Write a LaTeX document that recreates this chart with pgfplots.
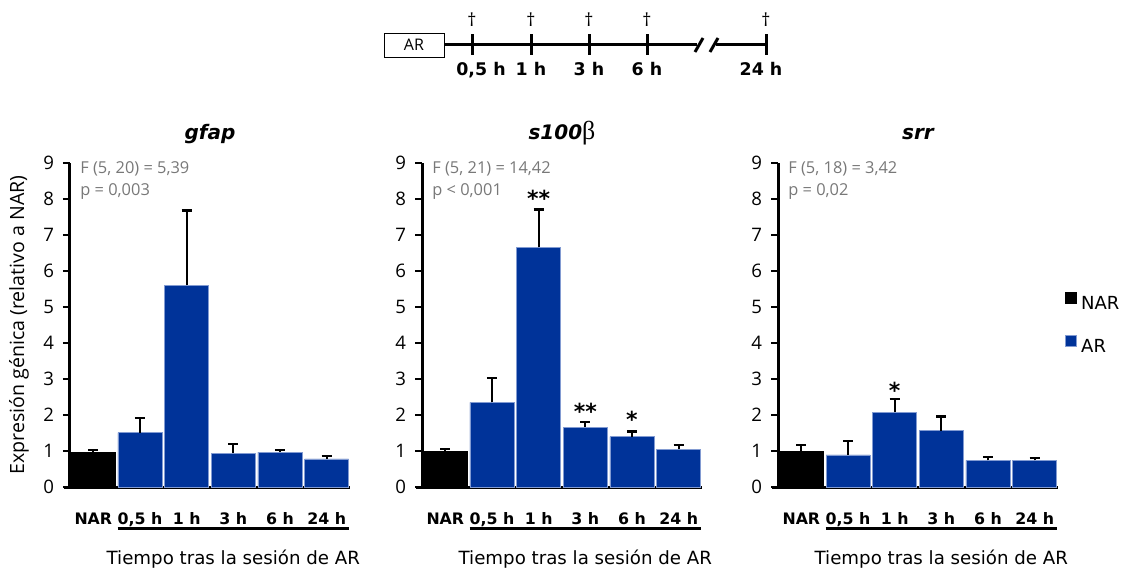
\documentclass[border=0pt]{standalone}
\usepackage{fontspec}
\setmainfont{Open Sans}
\newfontfamily\dvs{DejaVu Sans}
\newfontfamily\lserif{Liberation Serif}
\usepackage{pgfplots}
\pgfplotsset{compat=1.18}
\definecolor{arblue}{RGB}{0,51,153}
\definecolor{edgeblue}{RGB}{130,155,210}
\definecolor{ftext}{RGB}{120,120,120}
\pgfplotsset{
 panel/.style={
  width=140pt, height=162pt, scale only axis, anchor=south west,
  xmin=-0.5, xmax=5.5, ymin=0, ymax=9,
  axis lines=left, axis line style={-, line width=1.5pt, black},
  x axis line style={shorten <=-3pt},
  xtick={0,...,5}, xticklabels={NAR,{0,5 h},1 h,3 h,6 h,24 h},
  xtick style={draw=none},
  ytick={0,...,9}, ytick style={line width=1.2pt, black},
  tick align=outside, major tick length=3.5pt,
  yticklabel style={font=\fontsize{9.3}{10}\selectfont, xshift=-1pt},
  xticklabel style={font=\dvs\bfseries\fontsize{7.9}{9}\selectfont, anchor=base, yshift=-15.2pt},
  /pgf/number format/assume math mode=true,
  clip=false,
 },
 narbar/.style={ybar, bar width=22pt, bar shift=0pt, fill=black, draw=black, line width=0.3pt,
  error bars/.cd, y dir=plus, y explicit, error mark=-,
  error bar style={line width=1.1pt, black},
  error mark options={rotate=90, line width=1.1pt, black, mark size=2.5pt}},
 arbar/.style={ybar, bar width=22pt, bar shift=0pt, fill=arblue, draw=edgeblue, line width=0.4pt,
  error bars/.cd, y dir=plus, y explicit, error mark=-,
  error bar style={line width=1.1pt, black},
  error mark options={rotate=90, line width=1.1pt, black, mark size=2.5pt}},
}
\newcommand{\ftxt}[2]{%
  \node[anchor=base west, font=\fontsize{8.2}{9}\selectfont, text=ftext, inner sep=0pt] at (rel axis cs:0,1) [xshift=5pt, yshift=-5pt] {#1};
  \node[anchor=base west, font=\fontsize{8.2}{9}\selectfont, text=ftext, inner sep=0pt] at (rel axis cs:0,1) [xshift=5pt, yshift=-16.3pt] {#2};}
\newcommand{\under}{%
  \draw[line width=1.5pt] (axis cs:0.52,0) ++(0pt,-20.5pt) -- ++(115.8pt,0pt);
  \node[anchor=base, font=\dvs\fontsize{9.1}{10}\selectfont, inner sep=0pt] at (axis cs:3,0) [yshift=-38.6pt] {Tiempo tras la sesión de AR};}
\newcommand{\ttl}[1]{%
  \node[anchor=base, inner sep=0pt] at (rel axis cs:0.5,1) [yshift=12pt] {#1};}
\newcommand{\signif}[2]{%
  \node[anchor=base, inner sep=0pt, font=\dvs\bfseries\fontsize{11}{11}\selectfont] at (axis cs:#1) [yshift=-6.5pt] {#2};}
\begin{document}
\begin{tikzpicture}
\path[use as bounding box] (0pt,0pt) rectangle (563pt,-284pt);
% ---------- gfap ----------
\begin{axis}[panel, at={(35pt,-243.5pt)}]
\addplot[narbar] coordinates {(0,0.97) +- (0,0.06)};
\addplot[arbar] coordinates {(1,1.51) +- (0,0.41) (2,5.61) +- (0,2.07) (3,0.94) +- (0,0.25) (4,0.97) +- (0,0.06) (5,0.78) +- (0,0.09)};
\ftxt{F (5, 20) = 5,39}{p = 0,003}
\ttl{\dvs\bfseries\itshape\fontsize{10}{12}\selectfont gfap}
\under
\end{axis}
% ---------- s100b ----------
\begin{axis}[panel, at={(211pt,-243.5pt)}]
\addplot[narbar] coordinates {(0,0.98) +- (0,0.07)};
\addplot[arbar] coordinates {(1,2.35) +- (0,0.68) (2,6.66) +- (0,1.05) (3,1.66) +- (0,0.15) (4,1.40) +- (0,0.14) (5,1.05) +- (0,0.12)};
\ftxt{F (5, 21) = 14,42}{p < 0,001}
\ttl{{\dvs\bfseries\itshape\fontsize{10}{12}\selectfont s100}{\lserif\fontsize{13}{13}\selectfont β}}
\signif{2,8.16}{**}
\signif{3,2.23}{**}
\signif{4,2.02}{*}
\under
\end{axis}
% ---------- srr ----------
\begin{axis}[panel, at={(389pt,-243.5pt)},
  legend image code/.code={\fill[#1] (0pt,0.8pt) rectangle (5.5pt,6.3pt);},
  legend style={draw=none, fill=none, at={(1.025,0.498)}, anchor=west, inner sep=0pt,
    row sep=9pt, font=\dvs\fontsize{9}{10}\selectfont},
  legend cell align=left]
\addplot[narbar] coordinates {(0,1.00) +- (0,0.16)};
\addlegendentry{NAR}
\addplot[arbar] coordinates {(1,0.89) +- (0,0.38) (2,2.08) +- (0,0.37) (3,1.56) +- (0,0.40) (4,0.74) +- (0,0.10) (5,0.74) +- (0,0.06)};
\addlegendentry{AR}
\ftxt{F (5, 18) = 3,42}{p = 0,02}
\ttl{\dvs\bfseries\itshape\fontsize{10}{12}\selectfont srr}
\signif{2,2.83}{*}
\under
\end{axis}
% ---------- decorations ----------
\begin{scope}[x=0.5pt, y=-0.5pt]
\node[rotate=90, font=\fontsize{9.8}{11}\selectfont, inner sep=0pt] at (19,325) {Expresión génica (relativo a NAR)};
% timeline
\draw[line width=0.5pt] (384,33) rectangle (444,57);
\node[font=\fontsize{8}{9}\selectfont, inner sep=0pt] at (414,45) {AR};
\draw[line width=1.5pt] (444,44) -- (697,44);
\draw[line width=1.5pt] (716,44) -- (766,44);
\draw[line width=1.5pt] (695,52) -- (703,38);
\draw[line width=1.5pt] (710,52) -- (718,38);
\foreach \t in {472,531,589,647,766} {
  \draw[line width=1.5pt] (\t,34) -- (\t,55);
  \node[font=\fontsize{9}{10}\selectfont, inner sep=0pt] at (\t,20) {†};
}
\foreach \t/\l in {481/{0,5 h},531/{1 h},589/{3 h},647/{6 h},761/{24 h}} {
  \node[anchor=base, font=\dvs\bfseries\fontsize{8.7}{9}\selectfont, inner sep=0pt] at (\t,75) {\l};
}
\end{scope}
\end{tikzpicture}
\end{document}
